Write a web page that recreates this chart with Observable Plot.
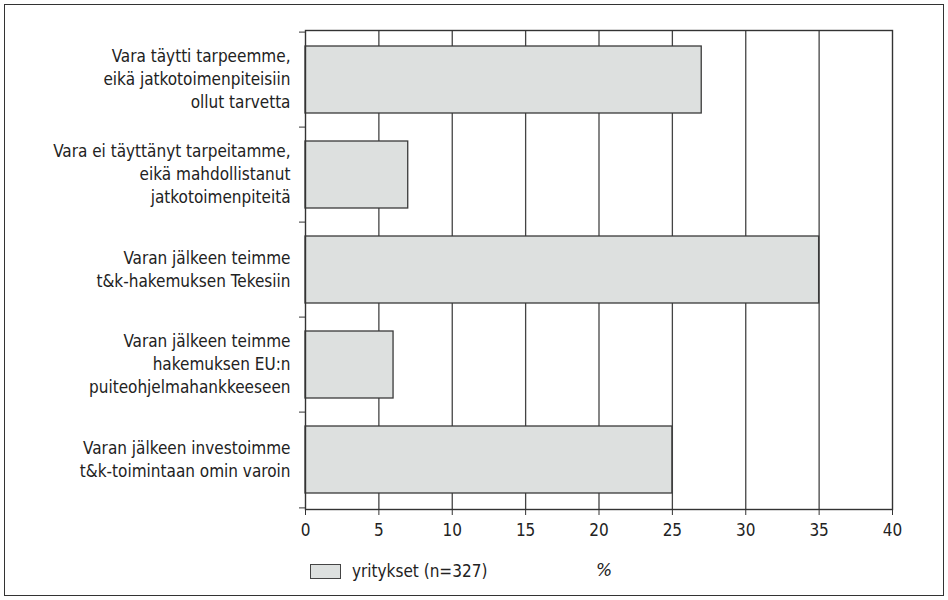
<!DOCTYPE html>
<html>
<head>
<meta charset="utf-8">
<script src="https://cdn.jsdelivr.net/npm/d3@7"></script>
<script src="https://cdn.jsdelivr.net/npm/@observablehq/plot@0.6"></script>
<style>
  body { margin: 0; background: #fff; }
  #frame { position: absolute; left: 4px; top: 4px; width: 938px; height: 590px; border: 1px solid #333; background:#fff;
    font-family: "Liberation Sans Narrow", "Arial Narrow", "DejaVu Sans Condensed", sans-serif; color: #222; }
  #chart { position: absolute; left: 0; top: 0; }
  #legend { position: absolute; left: 305px; top: 556px; display: flex; align-items: center; font-size: 17px; }
  #legend .sw { width: 31px; height: 15px; background: #dde0df; border: 1px solid #444; box-sizing: border-box; margin-right: 11px; }
  #pct { position: absolute; left: 591px; top: 555px; font-size: 17px; font-style: italic; font-family: "DejaVu Sans", sans-serif; }
</style>
</head>
<body>
<div id="frame">
  <div id="chart"></div>
  <div id="legend"><div class="sw"></div><span id="legtext"></span></div>
  <div id="pct"></div>
</div>
<script>
const categories = [
  "Vara täytti tarpeemme,\neikä jatkotoimenpiteisiin\nollut tarvetta",
  "Vara ei täyttänyt tarpeitamme,\neikä mahdollistanut\njatkotoimenpiteitä",
  "Varan jälkeen teimme\nt&k-hakemuksen Tekesiin",
  "Varan jälkeen teimme\nhakemuksen EU:n\npuiteohjelmahankkeeseen",
  "Varan jälkeen investoimme\nt&k-toimintaan omin varoin"
];
const values = [27, 7, 35, 6, 25];
const xTicks = [0, 5, 10, 15, 20, 25, 30, 35, 40];
const seriesName = "yritykset (n=327)";
const unitLabel = "%";

const data = categories.map((c, i) => ({category: c, value: values[i]}));

const W = 938, H = 546;
const mTop = 25, mBottom = H - 504, mLeft = 300, mRight = W - 887;
const step = (H - mTop - mBottom) / categories.length;

const chart = Plot.plot({
  width: W,
  height: H,
  marginTop: mTop,
  marginBottom: mBottom,
  marginLeft: mLeft,
  marginRight: mRight,
  style: {fontFamily: '"Liberation Sans Narrow", "Arial Narrow", "DejaVu Sans Condensed", sans-serif', fontSize: "17px", color: "#222", background: "transparent"},
  x: {domain: [0, 40], ticks: xTicks},
  y: {domain: categories, paddingInner: 0.3, paddingOuter: 0.15},
  marks: [
    Plot.gridX(xTicks.slice(1, -1), {stroke: "#444", strokeOpacity: 1, strokeWidth: 1.3}),
    Plot.barX(data, {x: "value", y: "category", fill: "#dde0df", stroke: "#3a3a3a", strokeWidth: 1.3}),
    Plot.frame({stroke: "#333", strokeWidth: 1.4}),
    Plot.axisX({ticks: xTicks, tickSize: 6, tickPadding: 8, label: null, stroke: "#333", fontSize: 17}),
    Plot.axisY({tickSize: 0, tickPadding: 15, label: null, lineHeight: 1.35, dy: -2, fontSize: 17}),
    Plot.axisY({tickSize: 6, text: null, dy: -step / 2, label: null, stroke: "#333"}),
    Plot.axisY([categories[categories.length - 1]], {tickSize: 6, text: null, dy: step / 2, label: null, stroke: "#333"})
  ]
});
document.getElementById("chart").appendChild(chart);
document.getElementById("legtext").textContent = seriesName;
document.getElementById("pct").textContent = unitLabel;
</script>
</body>
</html>
